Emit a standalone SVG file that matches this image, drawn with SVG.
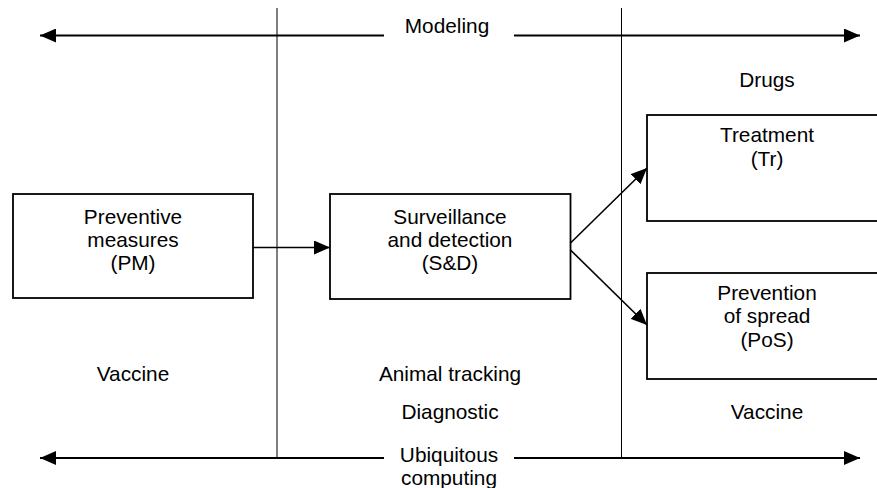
<svg xmlns="http://www.w3.org/2000/svg" width="877" height="488" viewBox="0 0 877 488">
  <style>
    text { font-family: "Liberation Sans", Arial, sans-serif; font-size: 20.8px; fill: #000; text-anchor: middle; }
    .box { fill: #fff; stroke: #000; stroke-width: 1.8; }
    .divider { stroke: #000; stroke-width: 1; fill: none; }
    .axis { stroke: #000; stroke-width: 2.2; fill: none; }
    .link { stroke: #000; stroke-width: 1.6; fill: none; }
  </style>
  <defs>
    <marker id="head" markerUnits="userSpaceOnUse" markerWidth="17" markerHeight="14" refX="16" refY="7" orient="auto">
      <path d="M0,0 L16,7 L0,14 z" fill="#000"/>
    </marker>
    <marker id="tail" markerUnits="userSpaceOnUse" markerWidth="17" markerHeight="14" refX="0" refY="7" orient="auto">
      <path d="M16,0 L0,7 L16,14 z" fill="#000"/>
    </marker>
  </defs>
  <rect width="877" height="488" fill="#fff"/>

  <!-- phase dividers -->
  <g id="dividers">
    <line class="divider" x1="277" y1="8" x2="277" y2="458"/>
    <line class="divider" x1="621.5" y1="8" x2="621.5" y2="458"/>
  </g>

  <!-- cross-cutting axes -->
  <g id="axis-modeling">
    <line class="axis" x1="40" y1="35.5" x2="384" y2="35.5" marker-start="url(#tail)"/>
    <line class="axis" x1="514" y1="35.5" x2="860" y2="35.5" marker-end="url(#head)"/>
    <text x="447" y="33">Modeling</text>
  </g>
  <g id="axis-ubiquitous">
    <line class="axis" x1="40" y1="458" x2="384" y2="458" marker-start="url(#tail)"/>
    <line class="axis" x1="514" y1="458" x2="860" y2="458" marker-end="url(#head)"/>
    <text x="449" y="462">Ubiquitous</text>
    <text x="449" y="485">computing</text>
  </g>

  <!-- nodes -->
  <g id="node-pm">
    <rect class="box" x="13" y="194" width="240" height="104"/>
    <text x="133" y="224">Preventive</text>
    <text x="133" y="247">measures</text>
    <text x="133" y="270">(PM)</text>
  </g>
  <g id="node-sd">
    <rect class="box" x="330" y="194" width="240.5" height="105"/>
    <text x="450" y="224">Surveillance</text>
    <text x="450" y="247">and detection</text>
    <text x="450" y="270">(S&amp;D)</text>
  </g>
  <g id="node-tr">
    <rect class="box" x="647" y="115" width="240" height="106"/>
    <text x="767" y="142">Treatment</text>
    <text x="767" y="166">(Tr)</text>
  </g>
  <g id="node-pos">
    <rect class="box" x="647" y="273" width="240" height="106"/>
    <text x="767" y="300">Prevention</text>
    <text x="767" y="323">of spread</text>
    <text x="767" y="347">(PoS)</text>
  </g>

  <!-- connectors -->
  <g id="connectors">
    <line class="link" x1="253" y1="247.5" x2="330" y2="247.5" marker-end="url(#head)"/>
    <line class="link" x1="570.5" y1="243" x2="647" y2="168" marker-end="url(#head)"/>
    <line class="link" x1="570.5" y1="250" x2="647" y2="325" marker-end="url(#head)"/>
  </g>

  <!-- enabling technologies -->
  <g id="labels">
    <text x="767" y="87">Drugs</text>
    <text x="133" y="381">Vaccine</text>
    <text x="450" y="381">Animal tracking</text>
    <text x="450" y="419">Diagnostic</text>
    <text x="767" y="419">Vaccine</text>
  </g>
</svg>
